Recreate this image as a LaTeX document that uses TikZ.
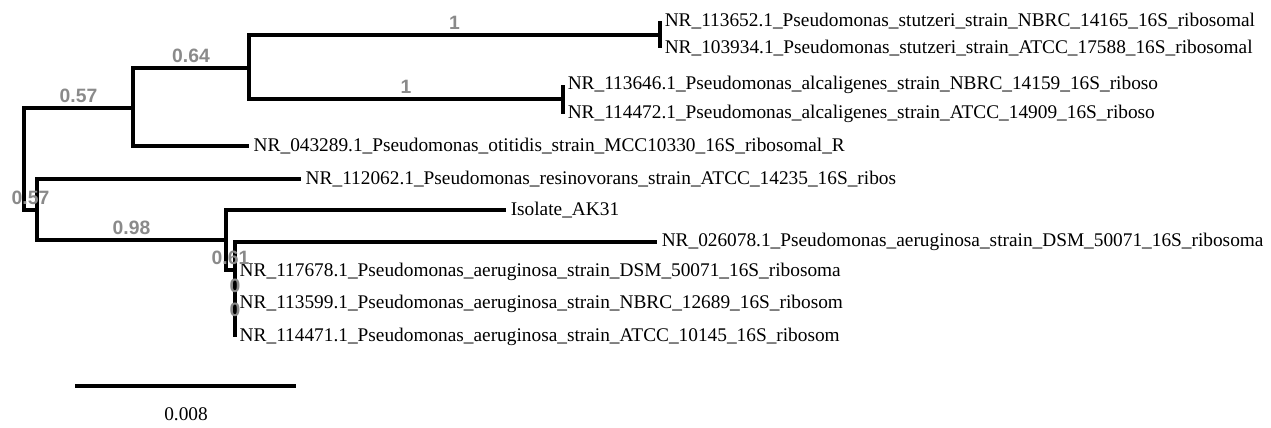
\documentclass[tikz,border=0pt]{standalone}
\usepackage{fontspec}
\setmainfont{Liberation Serif}
\newfontfamily\supportfont{Liberation Sans}
\usepackage{xcolor}
\usetikzlibrary{positioning}
\definecolor{bootgray}{RGB}{138,138,138}

\begin{document}
\begin{tikzpicture}[
        x=0.02cm, y=-0.02cm,
        branch/.style={line width=2.1pt},
        leaf/.style={anchor=west, inner sep=2.5pt, font=\fontsize{11}{13}\selectfont},
        support/.style={above, pos=0.75, inner sep=2pt, text=bootgray, font=\supportfont\bfseries\fontsize{11}{13}\selectfont}
    ]
        \useasboundingbox (0,0) rectangle (1271,428);

        % Inner nodes of the tree
        \coordinate (root) at (24,159);
        \coordinate (cladeA) at (133,108);
        \coordinate (cladeB) at (249,68);
        \coordinate (stuN) at (660,35);
        \coordinate (alcN) at (563,99);
        \coordinate (cladeC) at (37,210);
        \coordinate (cladeD) at (226,240);
        \coordinate (aerN1) at (235,270);
        \coordinate (aerN2) at (235,298);
        \coordinate (aerN3) at (235,322);

        % Leaves
        \node[leaf] (stuA) at (660,21) {NR\_113652.1\_Pseudomonas\_stutzeri\_strain\_NBRC\_14165\_16S\_ribosomal};
        \node[leaf] (stuB) at (660,48) {NR\_103934.1\_Pseudomonas\_stutzeri\_strain\_ATCC\_17588\_16S\_ribosomal};
        \node[leaf] (alcA) at (563,85) {NR\_113646.1\_Pseudomonas\_alcaligenes\_strain\_NBRC\_14159\_16S\_riboso};
        \node[leaf] (alcB) at (563,114) {NR\_114472.1\_Pseudomonas\_alcaligenes\_strain\_ATCC\_14909\_16S\_riboso};
        \node[leaf] (oti) at (249,146) {NR\_043289.1\_Pseudomonas\_otitidis\_strain\_MCC10330\_16S\_ribosomal\_R};
        \node[leaf] (res) at (301,179) {NR\_112062.1\_Pseudomonas\_resinovorans\_strain\_ATCC\_14235\_16S\_ribos};
        \node[leaf] (iso) at (506,210) {Isolate\_AK31};
        \node[leaf] (aerA) at (657,242) {NR\_026078.1\_Pseudomonas\_aeruginosa\_strain\_DSM\_50071\_16S\_ribosoma};
        \node[leaf] (aerB) at (235,272) {NR\_117678.1\_Pseudomonas\_aeruginosa\_strain\_DSM\_50071\_16S\_ribosoma};
        \node[leaf] (aerC) at (235,304) {NR\_113599.1\_Pseudomonas\_aeruginosa\_strain\_NBRC\_12689\_16S\_ribosom};
        \node[leaf] (aerD) at (235,337) {NR\_114471.1\_Pseudomonas\_aeruginosa\_strain\_ATCC\_10145\_16S\_ribosom};

        % Branches (one path, so the support values sit on top)
        \draw[branch]
            (root) |- node[support] {0.57} (cladeA)
            (root) |- node[support] {0.57} (cladeC)
            (cladeA) |- node[support] {0.64} (cladeB)
            (cladeA) |- (oti)
            (cladeB) |- node[support] {1} (stuN)
            (cladeB) |- node[support] {1} (alcN)
            (stuN) |- (stuA)
            (stuN) |- (stuB)
            (alcN) |- (alcA)
            (alcN) |- (alcB)
            (cladeC) |- (res)
            (cladeC) |- node[support] {0.98} (cladeD)
            (cladeD) |- (iso)
            (cladeD) |- node[support] {0.61} (aerN1)
            (aerN1) |- (aerA)
            (aerN1) |- node[support] {0} (aerN2)
            (aerN2) |- (aerB)
            (aerN2) |- node[support] {0} (aerN3)
            (aerN3) |- (aerC)
            (aerN3) |- (aerD);

        % Scale bar
        \coordinate (barL) at (75,386);
        \coordinate (barR) at (296,386);
        \draw[branch] (barL) -- (barR);
        \node[font=\fontsize{11}{13}\selectfont] (barlab) at (186,414) {0.008};
    \end{tikzpicture}
\end{document}
